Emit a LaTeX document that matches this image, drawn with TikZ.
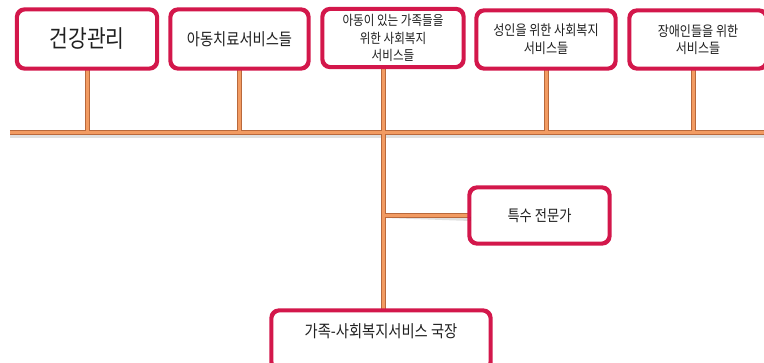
\documentclass[tikz,border=0pt]{standalone}
\usepackage{fontspec}
\setmainfont[FakeStretch=0.85]{Noto Sans CJK KR}
\usetikzlibrary{shadows}
\definecolor{boxred}{HTML}{D3174B}
\definecolor{connlight}{HTML}{F29B62}
\definecolor{conndark}{HTML}{B9693C}
\definecolor{txt}{HTML}{202020}
\tikzset{
  box/.style={draw=boxred, line width=2.6pt, fill=white, rounded corners=8pt,
    align=center, text=txt, inner sep=0pt,
    drop shadow={shadow xshift=1.2pt, shadow yshift=-1.5pt, opacity=0.2}},
  connout/.style={draw=conndark, line width=5pt},
  connin/.style={draw=connlight, line width=3pt},
  connshadow/.style={draw=black, opacity=0.12, line width=4pt},
}
\begin{document}
\begin{tikzpicture}[x=1pt, y=-1pt]
\useasboundingbox (0,0) rectangle (764,363);
\clip (0,0) rectangle (764,363);
% coordinates
\coordinate (hl) at (10,133);
\coordinate (hr) at (770,133);
\coordinate (tr) at (383,133);
\coordinate (br) at (383,216);
% boxes
\node[box, minimum width=139pt, minimum height=58pt, font=\fontsize{24}{26}\selectfont] (b1) at (87,39) {건강관리};
\node[box, minimum width=137pt, minimum height=58pt, font=\fontsize{16.8}{18}\selectfont] (b2) at (239.5,39) {아동치료서비스들};
\node[box, minimum width=140pt, minimum height=57pt, font=\fontsize{13.6}{17.5}\selectfont] (b3) at (393,38) {아동이 있는 가족들을\\위한 사회복지\\서비스들};
\node[box, minimum width=138pt, minimum height=57pt, font=\fontsize{14.2}{18}\selectfont] (b4) at (546,39.5) {성인을 위한 사회복지\\서비스들};
\node[box, minimum width=136pt, minimum height=57pt, font=\fontsize{14.2}{17}\selectfont] (b5) at (698,39.5) {장애인들을 위한\\서비스들};
\node[box, minimum width=139pt, minimum height=55pt, font=\fontsize{15.6}{17}\selectfont] (b6) at (539.5,215.5) {특수 전문가};
\node[box, minimum width=218pt, minimum height=58pt, font=\fontsize{16.8}{18}\selectfont, text height=12pt, text depth=16pt] (b7) at (381,340) {가족-사회복지서비스 국장};
% connector shadows
\draw[connshadow] ([yshift=-3pt]hl) -- ([yshift=-3pt]hr);
\draw[connshadow] ([xshift=2pt]br) -- ([xshift=2pt,yshift=-3pt]br -| b6.west);
% connectors: outline pass
\begin{scope}[connout]
\draw (hl) -- (hr);
\draw (b1.south) -- (b1.south |- hl);
\draw (b2.south) -- (b2.south |- hl);
\draw (tr |- b3.south) -- (tr |- b7.north);
\draw (b4.south) -- (b4.south |- hl);
\draw ([xshift=-5pt]b5.south) -- ([xshift=-5pt]b5.south |- hl);
\draw (br) -- (br -| b6.west);
\end{scope}
% connectors: fill pass
\begin{scope}[connin]
\draw (hl) -- (hr);
\draw (b1.south) -- (b1.south |- hl);
\draw (b2.south) -- (b2.south |- hl);
\draw (tr |- b3.south) -- (tr |- b7.north);
\draw (b4.south) -- (b4.south |- hl);
\draw ([xshift=-5pt]b5.south) -- ([xshift=-5pt]b5.south |- hl);
\draw (br) -- (br -| b6.west);
\end{scope}
% redraw boxes' borders over connector ends
\foreach \n in {b1,b2,b3,b4,b5,b6,b7}{
  \draw[boxred, line width=2.6pt, rounded corners=8pt] (\n.north west) rectangle (\n.south east);
}
\end{tikzpicture}
\end{document}
